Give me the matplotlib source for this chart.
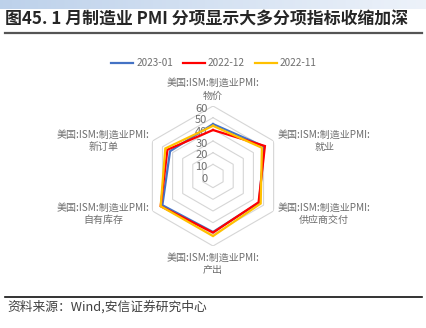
import numpy as np
import matplotlib
matplotlib.use("Agg")
import matplotlib.pyplot as plt
from matplotlib.transforms import offset_copy

plt.rcParams['font.family'] = ['Noto Sans CJK SC', 'DejaVu Sans']

# 分项指标（顺时针，从顶部开始）
categories = ["物价", "就业", "供应商交付", "产出", "自有库存", "新订单"]
prefix = "美国:ISM:制造业PMI:"
series_names = ["2023-01", "2022-12", "2022-11"]
v_2023_01 = [44.5, 50.6, 45.6, 48.0, 50.1, 42.5]
v_2022_12 = [39.4, 51.4, 45.1, 48.5, 51.8, 45.1]
v_2022_11 = [43.0, 48.4, 47.2, 51.5, 51.8, 47.2]
r_ticks = [0, 10, 20, 30, 40, 50, 60]

colors = ["#4472C4", "#FF0000", "#FFC000"]
text_gray = "#6E6E6E"
grid_gray = "#D6D6D6"

W, H = 427, 328
fig = plt.figure(figsize=(W / 100, H / 100), dpi=100)

# header gradient band
band = fig.add_axes([0, 1 - 9 / H, 1, 9 / H])
grad = np.linspace(0, 1, 256)[None, :, None]
c0 = np.array([0.74, 0.82, 0.92])
c1 = np.array([0.93, 0.95, 0.98])
band.imshow(c0 + (c1 - c0) * grad, aspect="auto", extent=[0, 1, 0, 1])
band.axis("off")

fig.text(5 / W, 1 - 20 / H, "图45. 1 月制造业 PMI 分项显示大多分项指标收缩加深",
         fontsize=12.2, fontweight="bold", color="#262626", ha="left", va="center")
fig.add_artist(plt.Line2D([5 / W, 422 / W], [1 - 33 / H, 1 - 33 / H],
                          color="#555555", lw=1.6))
fig.add_artist(plt.Line2D([5 / W, 422 / W], [1 - 297 / H, 1 - 297 / H],
                          color="#111111", lw=1.2))
fig.text(7 / W, 1 - 307 / H, "资料来源：Wind,安信证券研究中心", fontsize=9.2,
         style="italic", color="#404040", ha="left", va="center")

# radar
cx, cy, R = 213, 176, 70
ax = fig.add_axes([(cx - R) / W, (H - cy - R) / H, 2 * R / W, 2 * R / H],
                  projection="polar")
ax.set_theta_zero_location("N")
ax.set_theta_direction(-1)
ax.set_ylim(0, 60)
ax.grid(False)
ax.set_xticks([])
ax.set_yticks([])
ax.spines["polar"].set_visible(False)
ax.patch.set_alpha(0)

n = len(categories)
theta = np.linspace(0, 2 * np.pi, n, endpoint=False)
theta_c = np.append(theta, theta[0])

for t in r_ticks[1:]:
    ax.plot(theta_c, [t] * (n + 1), color=grid_gray, lw=0.8, zorder=1)

for t in r_ticks:
    tr = offset_copy(ax.transData, fig=fig, x=-4, y=-2, units="points")
    ax.text(0, t, str(t), transform=tr, ha="right", va="center",
            fontsize=8, color=text_gray)

for name, vals, c in zip(series_names, [v_2023_01, v_2022_12, v_2022_11], colors):
    ax.plot(theta_c, list(vals) + [vals[0]], color=c, lw=1.6, label=name, zorder=3,
            solid_joinstyle="miter")

# category labels around the outer ring
label_specs = [
    (0, 0, 12, "center", "center"),
    (1, 3, 0, "left", "center"),
    (2, 3, -2, "left", "center"),
    (3, 0, -13, "center", "center"),
    (4, -2, -2, "right", "center"),
    (5, -2, 0, "right", "center"),
]
for i, dx, dy, ha, va in label_specs:
    tr = offset_copy(ax.transData, fig=fig, x=dx, y=dy, units="points")
    ax.text(theta[i], 60, prefix + "\n" + categories[i], transform=tr,
            ha=ha, va=va, multialignment="center", fontsize=7.2,
            color=text_gray, linespacing=1.3)

leg = fig.legend(loc="center", bbox_to_anchor=(214 / W, 1 - 63 / H), ncol=3,
                 frameon=False, fontsize=7.2, handlelength=2.2, handletextpad=0.3,
                 columnspacing=1.0, labelcolor=text_gray)

fig.savefig("out.png", dpi=100)
